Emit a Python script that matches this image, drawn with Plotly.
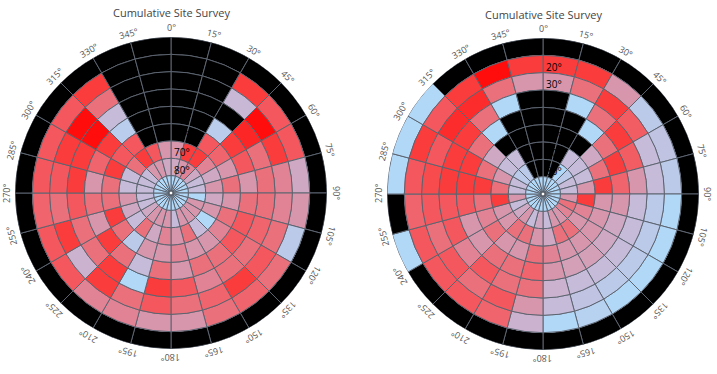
import math
import plotly.graph_objects as go

# ---------------- data ----------------
# 24 azimuth sectors (15 deg each, clockwise from north), 9 elevation bands (10 deg each)
azimuths = list(range(0, 360, 15))          # sector start angles
elev_bands = list(range(0, 90, 10))         # band start elevations
angle_ticks = [f"{a}°" for a in azimuths]
radial_ticks = [10, 20, 30, 40, 50, 60, 70, 80]
radial_tick_text = [f"{t}°" for t in radial_ticks]
title_text = "Cumulative Site Survey"

K = None  # blocked / no signal (drawn black)

# left survey: one row per elevation band (0-10, 10-20, ... 80-90), 24 sector values each
left_survey = [
    [K] * 24,
    [K, K, 85, 72, 72, 30, 40, 10, 60, 66, 60, 40, 40, 50, 50, 72, 72, 66, 72, 72, 72, 85, K, K],
    [K, K, 22, 100, 85, 50, 50, 60, 72, 85, 66, 60, 72, 60, 85, 25, 85, 60, 72, 85, 100, 60, K, K],
    [K, K, K, 92, 60, 60, 60, 66, 60, 60, 50, 72, 85, 0, 85, 60, 60, 72, 85, 85, 100, 20, K, K],
    [K, K, 8, 85, 72, 40, 60, 72, 72, 60, 60, 40, 60, 20, 60, 85, 40, 60, 40, 66, 85, 8, K, K],
    [K, K, 72, 66, 40, 60, 40, 60, 50, 40, 40, 50, 40, 40, 10, 60, 85, 60, 60, 85, 72, 72, K, K],
    [40, 85, 85, 50, 30, 40, 30, 40, 0, 20, 60, 40, 50, 30, 60, 20, 30, 40, 20, 20, 60, 85, 72, 40],
    [30, 40, 50, 30, 20, 20, 0, 40, 40, 40, 40, 20, 40, 40, 40, 30, 20, 20, 20, 20, 20, 40, 40, 30],
    [0] * 24,
]

# right survey
right_survey = [
    [K, K, K, K, K, K, K, K, K, K, K, K, K, K, K, K, 0, K, 0, 0, 0, K, K, K],
    [85, 85, 40, 10, 15, 10, 0, 0, 0, 0, 5, 0, 25, 66, 72, 72, 72, 66, 72, 85, 72, 85, 100, 85],
    [40, 60, 85, 70, 20, 20, 10, 10, 10, 10, 15, 20, 40, 72, 60, 72, 60, 72, 78, 72, 90, 90, 60, 40],
    [K, 0, 60, 85, 70, 40, 20, 20, 20, 20, 20, 25, 60, 60, 72, 50, 72, 72, 85, 85, 85, 60, 0, K],
    [K, K, 0, 60, 85, 66, 40, 30, 30, 35, 35, 40, 66, 60, 60, 40, 40, 72, 85, 85, 60, 0, K, K],
    [K, K, K, 30, 60, 85, 40, 40, 40, 40, 40, 50, 60, 40, 40, 60, 50, 60, 85, 60, 30, K, K, K],
    [K, K, 20, 20, 20, 40, 85, 50, 40, 60, 60, 30, 40, 60, 60, 40, 40, 85, 60, 40, 20, 20, K, K],
    [K, K, 0, 10, 20, 20, 40, 60, 50, 40, 40, 20, 30, 20, 40, 30, 20, 40, 20, 20, 10, 10, K, K],
    [0] * 24,
]

# ---------------- styling ----------------
W, H = 717, 374
BLOCKED = -25
colorscale = [
    [0.00, "rgb(0,0,0)"],
    [0.199, "rgb(0,0,0)"],
    [0.20, "rgb(178,216,248)"],
    [0.36, "rgb(198,188,218)"],
    [0.52, "rgb(216,150,172)"],
    [0.68, "rgb(234,112,124)"],
    [0.776, "rgb(244,88,94)"],
    [0.88, "rgb(251,60,60)"],
    [1.00, "rgb(255,12,12)"],
]

charts = [
    dict(grid=left_survey, cx=171, cy=193, R=156, polar="polar", title_y=12),
    dict(grid=right_survey, cx=543, cy=194, R=156, polar="polar2", title_y=14),
]

fig = go.Figure()
annotations = []
layout_polars = {}

for ch in charts:
    thetas, bases, rs, vals = [], [], [], []
    for bi, band in enumerate(ch["grid"]):
        for si, v in enumerate(band):
            thetas.append(azimuths[si] + 7.5)
            bases.append(elev_bands[bi])
            rs.append(10)
            vals.append(BLOCKED if v is None else v)
    fig.add_trace(go.Barpolar(
        r=rs, base=bases, theta=thetas, width=[15] * len(thetas),
        marker=dict(color=vals, colorscale=colorscale, cmin=BLOCKED, cmax=100,
                    line=dict(color="rgb(92,100,112)", width=1)),
        subplot=ch["polar"], showlegend=False, hoverinfo="skip",
    ))
    # pole marker
    fig.add_trace(go.Scatterpolar(
        r=[90], theta=[0], mode="markers", subplot=ch["polar"],
        marker=dict(size=4, color="white", line=dict(color="rgb(70,76,86)", width=1)),
        showlegend=False, hoverinfo="skip",
    ))
    cx, cy, R = ch["cx"], ch["cy"], ch["R"]
    layout_polars[ch["polar"]] = dict(
        domain=dict(x=[(cx - R) / W, (cx + R) / W], y=[1 - (cy + R) / H, 1 - (cy - R) / H]),
        bgcolor="white",
        radialaxis=dict(range=[90, 0], tickvals=radial_ticks, showticklabels=False,
                        angle=90, showline=False, showgrid=False, ticks=""),
        angularaxis=dict(rotation=90, direction="clockwise", showticklabels=False,
                         ticks="", showgrid=False, showline=False),
    )
    # radial (elevation) labels along the 0° spoke, just clockwise of it
    for t, lab in zip(radial_ticks, radial_tick_text):
        rp = (90 - t) / 90 * R
        annotations.append(dict(
            x=(cx + 0.5) / W, y=1 - (cy - rp - 6) / H, xref="paper", yref="paper",
            text=lab, showarrow=False, xanchor="left", yanchor="middle",
            font=dict(family="Open Sans", size=10, color="rgb(0,0,0)"),
        ))
    # rotated angular tick labels
    for a, lab in zip(azimuths, angle_ticks):
        rad = math.radians(a)
        rr = R + 9
        x = cx + rr * math.sin(rad)
        y = cy - rr * math.cos(rad)
        annotations.append(dict(
            x=x / W, y=1 - y / H, xref="paper", yref="paper", text=lab,
            showarrow=False, textangle=a, xanchor="center", yanchor="middle",
            font=dict(family="Open Sans", size=9, color="#555555"),
        ))
    annotations.append(dict(
        x=cx / W, y=1 - ch["title_y"] / H, xref="paper", yref="paper", text=title_text,
        showarrow=False, xanchor="center", yanchor="middle",
        font=dict(family="Open Sans", size=11, color="#444444"),
    ))

fig.update_layout(
    width=W, height=H, margin=dict(l=0, r=0, t=0, b=0),
    paper_bgcolor="white", plot_bgcolor="white",
    annotations=annotations, **layout_polars,
)

fig.write_html("out.html", config={"displayModeBar": False},
               post_script="document.body.style.margin='0';")
